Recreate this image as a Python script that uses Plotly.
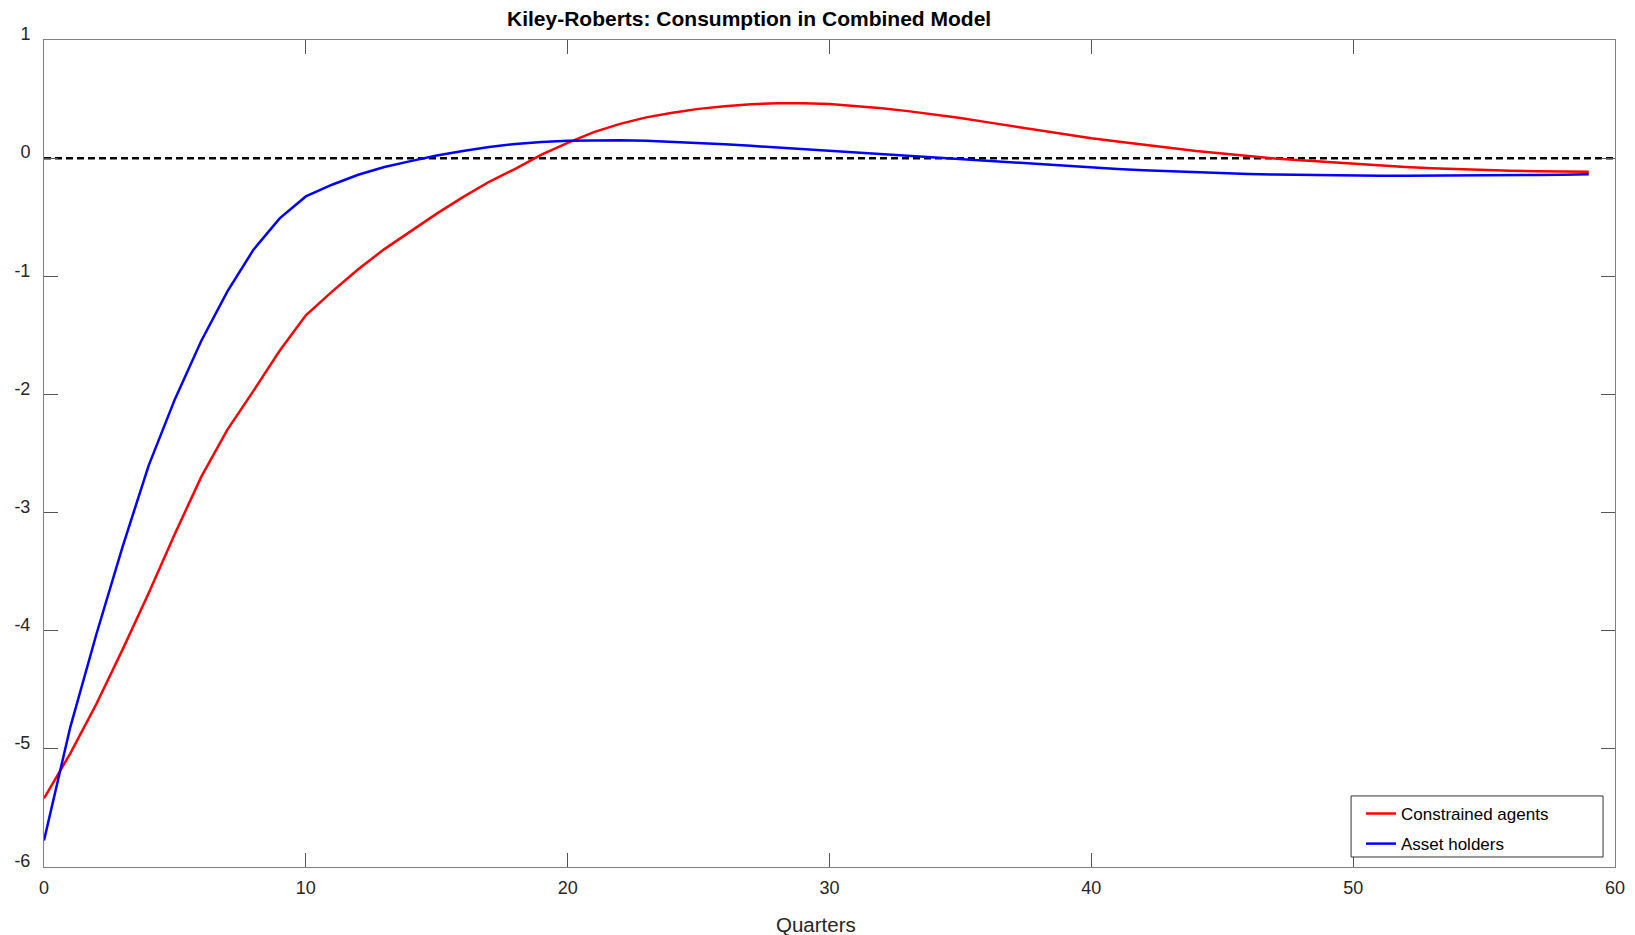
import plotly.graph_objects as go

quarters = list(range(60))

constrained_agents = [
    -5.42, -5.04, -4.62, -4.16, -3.68, -3.18, -2.70, -2.30, -1.97, -1.63,
    -1.33, -1.13, -0.94, -0.77, -0.62, -0.47, -0.33, -0.20, -0.09, 0.03,
    0.13, 0.22, 0.29, 0.345, 0.385, 0.417, 0.44, 0.456, 0.464, 0.465,
    0.458, 0.443, 0.423, 0.398, 0.37, 0.34, 0.305, 0.27, 0.235, 0.20,
    0.168, 0.14, 0.112, 0.085, 0.06, 0.04, 0.018, -0.002, -0.018, -0.033,
    -0.048, -0.062, -0.074, -0.085, -0.094, -0.101, -0.107, -0.111, -0.114, -0.116,
]

asset_holders = [
    -5.775, -4.82, -4.03, -3.29, -2.60, -2.04, -1.55, -1.13, -0.775, -0.51,
    -0.324, -0.225, -0.141, -0.075, -0.025, 0.022, 0.06, 0.095, 0.12, 0.137,
    0.147, 0.152, 0.152, 0.148, 0.14, 0.13, 0.118, 0.104, 0.09, 0.075,
    0.06, 0.045, 0.03, 0.015, 0.0, -0.013, -0.027, -0.04, -0.055, -0.068,
    -0.08, -0.092, -0.103, -0.112, -0.12, -0.128, -0.134, -0.139, -0.143, -0.146,
    -0.148, -0.149, -0.149, -0.149, -0.148, -0.147, -0.145, -0.143, -0.14, -0.137,
]

zero_line_x = [0, 60]
zero_line_y = [0, 0]

x_ticks = [0, 10, 20, 30, 40, 50, 60]
y_ticks = [1, 0, -1, -2, -3, -4, -5, -6]
y_tick_labels = ["1", "0", "-1", "-2", "-3", "-4", "-5", "-6"]

title_text = "Kiley-Roberts: Consumption in Combined Model"
x_title = "Quarters"

FONT = "Liberation Sans, Arial, sans-serif"

fig = go.Figure()

fig.add_trace(go.Scatter(
    x=zero_line_x, y=zero_line_y, mode="lines",
    line=dict(color="black", width=2.5, dash="7px,4px"),
    showlegend=False, hoverinfo="skip",
))
fig.add_trace(go.Scatter(
    x=quarters, y=constrained_agents, mode="lines", name="Constrained agents",
    line=dict(color="#ff0000", width=2.5), legendgroup="a",
))
fig.add_trace(go.Scatter(
    x=quarters, y=asset_holders, mode="lines", name="Asset holders",
    line=dict(color="#0000ff", width=2.5), legendgroup="b",
))

axis_common = dict(
    showgrid=False, zeroline=False, automargin=False,
    showline=True, linecolor="#808080", linewidth=1, mirror="ticks",
    ticks="inside", ticklen=14, tickcolor="#555555", tickwidth=1,
    tickfont=dict(family=FONT, size=18, color="#262626"),
)

fig.update_layout(
    width=1627, height=927,
    margin=dict(l=36, r=20, t=32, b=68),
    paper_bgcolor="white", plot_bgcolor="white",
    font=dict(family=FONT, size=17, color="#262626"),
    xaxis=dict(range=[0, 60], tickvals=x_ticks, ticklabelstandoff=4, **axis_common),
    yaxis=dict(range=[-6, 1], tickvals=y_ticks, ticktext=y_tick_labels,
               ticklabelstandoff=9, ticklabelshift=-6, **axis_common),
    showlegend=True,
    legend=dict(
        x=0.8383, y=0.0859, xanchor="left", yanchor="top",
        bgcolor="rgba(0,0,0,0)", borderwidth=0,
        font=dict(family=FONT, size=17, color="black"),
        tracegroupgap=5,
    ),
    shapes=[
        dict(type="rect", xref="paper", yref="paper",
             x0=0.8320, x1=0.9924, y0=0.0121, y1=0.0859,
             line=dict(color="#333333", width=1), fillcolor="white", layer="above"),
    ],
    annotations=[
        dict(text="<b>" + title_text + "</b>", xref="paper", yref="paper",
             x=0.4488, y=1.0, yshift=22, xanchor="center", yanchor="middle",
             showarrow=False, font=dict(family=FONT, size=21, color="black")),
        dict(text=x_title, xref="paper", yref="paper",
             x=0.4912, y=0.0, yshift=-57, xanchor="center", yanchor="middle",
             showarrow=False, font=dict(family=FONT, size=20.5, color="#262626")),
    ],
)

fig.write_html("out.html")
